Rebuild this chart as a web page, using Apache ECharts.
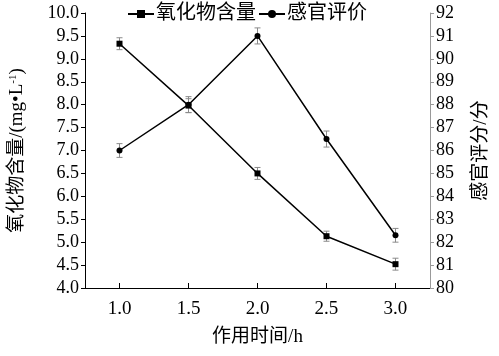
<!DOCTYPE html>
<html><head><meta charset="utf-8">
<script src="https://cdn.jsdelivr.net/npm/echarts@6/dist/echarts.min.js"></script>
<style>html,body{margin:0;padding:0;background:#fff}#c{width:499px;height:356px}</style>
</head><body><div id="c"></div>
<script>
const times = [1.0, 1.5, 2.0, 2.5, 3.0];
const oxide = [9.33, 7.98, 6.50, 5.13, 4.52];
const oxideErr = [0.13, 0.15, 0.13, 0.11, 0.13];
const sensory = [86.0, 88.0, 91.0, 86.5, 82.3];
const sensoryErr = [0.3, 0.35, 0.35, 0.35, 0.3];
const seriesNames = ['氧化物含量', '感官评价'];
const leftTicks = ['4.0','4.5','5.0','5.5','6.0','6.5','7.0','7.5','8.0','8.5','9.0','9.5','10.0'];
const rightTicks = ['80','81','82','83','84','85','86','87','88','89','90','91','92'];
const xTicks = ['1.0','1.5','2.0','2.5','3.0'];

const FONT = '"Liberation Serif","Noto Sans CJK SC",serif';
const chart = echarts.init(document.getElementById('c'));

function errSeries(vals, errs, yIdx) {
  return {
    type: 'custom', yAxisIndex: yIdx, silent: true, z: 1,
    data: times.map((t, i) => [t, vals[i] - errs[i], vals[i] + errs[i]]),
    renderItem: function (params, api) {
      const lo = api.coord([api.value(0), api.value(1)]);
      const hi = api.coord([api.value(0), api.value(2)]);
      const w = 3;
      const st = { stroke: '#8a8a8a', lineWidth: 1 };
      return { type: 'group', children: [
        { type: 'line', shape: { x1: lo[0], y1: lo[1], x2: hi[0], y2: hi[1] }, style: st },
        { type: 'line', shape: { x1: lo[0]-w, y1: lo[1], x2: lo[0]+w, y2: lo[1] }, style: st },
        { type: 'line', shape: { x1: hi[0]-w, y1: hi[1], x2: hi[0]+w, y2: hi[1] }, style: st }
      ]};
    }
  };
}

chart.setOption({
  animation: false,
  textStyle: { fontFamily: FONT },
  legend: {
    top: -1, left: 122, itemGap: 2, itemWidth: 26, itemHeight: 10,
    textStyle: { fontFamily: FONT, fontSize: 20, color: '#000', padding: [0,0,0,-3] },
    data: seriesNames
  },
  grid: { left: 78, right: 66, top: 13, bottom: 68 },
  xAxis: {
    type: 'value', min: 0.75, max: 3.25,
    name: '作用时间/h', nameLocation: 'middle', nameGap: 40,
    nameTextStyle: { fontFamily: FONT, fontSize: 19, color: '#000' },
    axisLine: { lineStyle: { color: '#000', width: 1 } },
    axisTick: { inside: true, length: 5, lineStyle: { color: '#000' }, customValues: times },
    axisLabel: { fontFamily: FONT, fontSize: 19, color: '#000', margin: 12,
      customValues: times, formatter: v => xTicks[times.indexOf(v)] },
    splitLine: { show: false }
  },
  yAxis: [{
    type: 'value', min: 4, max: 10, interval: 0.5, position: 'left',
    name: '{a|氧化物含量/(mg•L}{s|-1}{a|)}', nameLocation: 'middle', nameGap: 58, nameRotate: 90,
    nameTextStyle: { rich: {
      a: { fontFamily: FONT, fontSize: 19, color: '#000' },
      s: { fontFamily: FONT, fontSize: 11, color: '#000', verticalAlign: 'top', padding: [0,0,8,0] }
    }},
    axisLine: { show: true, lineStyle: { color: '#000' } },
    axisTick: { show: true, length: 4, lineStyle: { color: '#000' } },
    axisLabel: { fontFamily: FONT, fontSize: 18, color: '#000', margin: 6,
      formatter: v => leftTicks[Math.round((v - 4) / 0.5)] },
    splitLine: { show: false }
  }, {
    type: 'value', min: 80, max: 92, interval: 1, position: 'right',
    name: '感官评分/分', nameLocation: 'middle', nameGap: 42, nameRotate: 90,
    nameTextStyle: { fontFamily: FONT, fontSize: 19, color: '#000' },
    axisLine: { show: true, lineStyle: { color: '#999' } },
    axisTick: { show: true, length: 4, lineStyle: { color: '#999' } },
    axisLabel: { fontFamily: FONT, fontSize: 18, color: '#000', margin: 6,
      formatter: v => rightTicks[Math.round(v - 80)] },
    splitLine: { show: false }
  }],
  series: [
    errSeries(oxide, oxideErr, 0),
    errSeries(sensory, sensoryErr, 1),
    {
      name: seriesNames[0], type: 'line', yAxisIndex: 0, z: 3,
      data: times.map((t, i) => [t, oxide[i]]),
      symbol: 'rect', symbolSize: 6,
      lineStyle: { color: '#000', width: 1.5 }, itemStyle: { color: '#000' }
    },
    {
      name: seriesNames[1], type: 'line', yAxisIndex: 1, z: 3,
      data: times.map((t, i) => [t, sensory[i]]),
      symbol: 'circle', symbolSize: 6,
      lineStyle: { color: '#000', width: 1.5 }, itemStyle: { color: '#000' }
    }
  ]
});
</script></body></html>
